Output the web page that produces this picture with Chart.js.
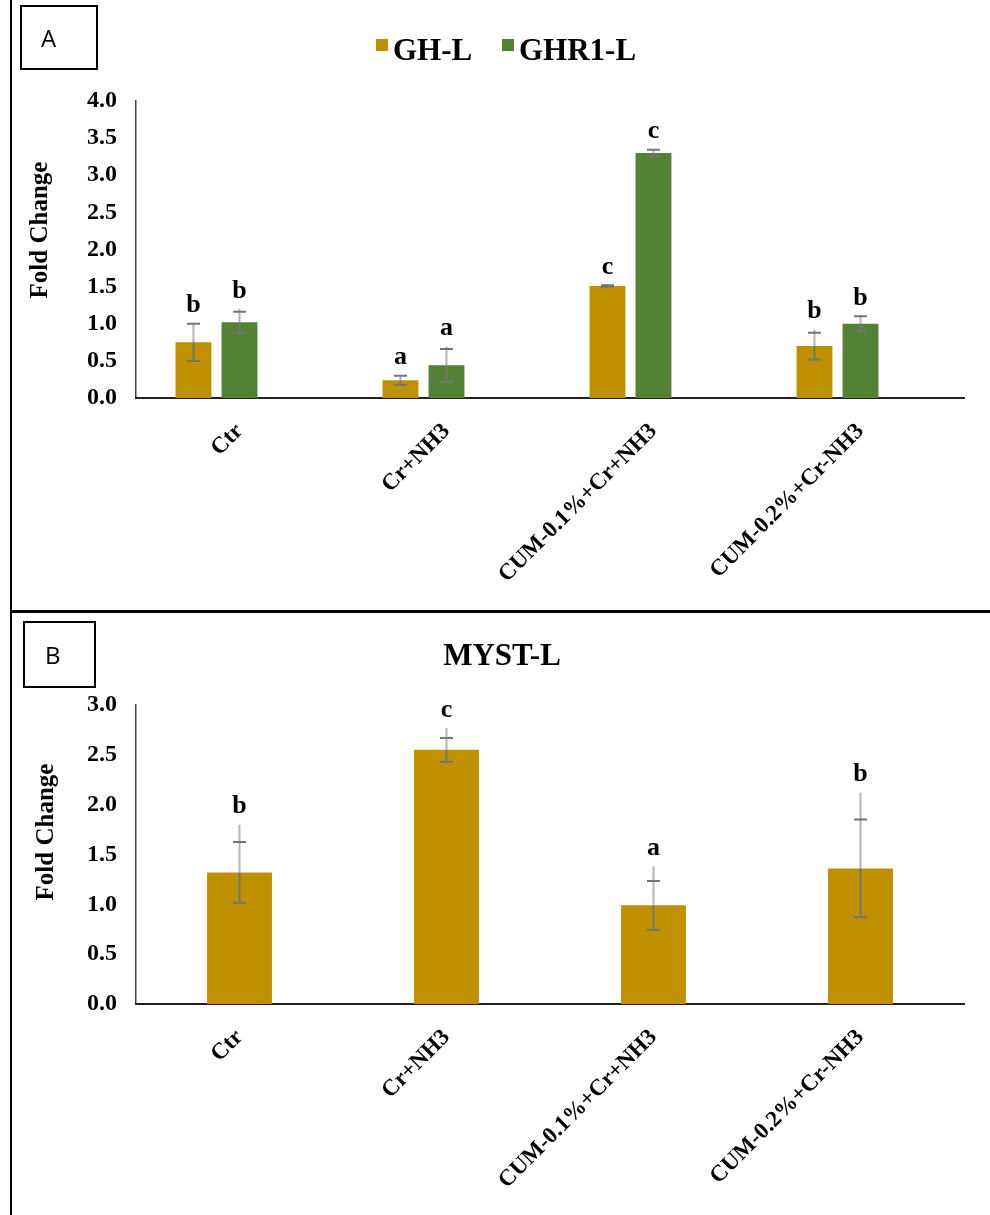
<!DOCTYPE html>
<html>
<head>
<meta charset="utf-8">
<script src="https://cdn.jsdelivr.net/npm/chart.js@4.4.1/dist/chart.umd.min.js"></script>
<style>
  html, body { margin: 0; padding: 0; background: #fff; }
  #page { position: relative; width: 990px; height: 1215px; overflow: hidden; background: #fff; }
  .vline { position: absolute; left: 10px; top: 0; width: 2px; height: 1215px; background: #000; }
  .hline { position: absolute; left: 10px; top: 610px; width: 980px; height: 3px; background: #000; }
  .tag { position: absolute; border: 2px solid #000; box-sizing: border-box;
         font-family: "Open Sans", "Noto Sans", sans-serif; font-size: 24px; color: #000;
         display: flex; align-items: center; }
  #tagA { left: 20px; top: 5px; width: 78px; height: 65px; padding-left: 19px; }
  #tagB { left: 23px; top: 621px; width: 73px; height: 67px; padding-left: 20px; }
  #chartA { position: absolute; left: 0; top: 0; }
  #chartB { position: absolute; left: 0; top: 610px; }
</style>
</head>
<body>
<div id="page">
  <canvas id="chartA" width="990" height="610"></canvas>
  <canvas id="chartB" width="990" height="605"></canvas>
  <div class="vline"></div>
  <div class="hline"></div>
  <div class="tag" id="tagA">A</div>
  <div class="tag" id="tagB">B</div>
</div>
<script>
// Treatment groups
const categories = ['Ctr', 'Cr+NH3', 'CUM-0.1%+Cr+NH3', 'CUM-0.2%+Cr-NH3'];

// Panel A: GH-L and GHR1-L fold change (mean, SE, upper whisker reach, significance letter)
const ghL        = [0.75, 0.24, 1.51, 0.70];
const ghLErr     = [0.25, 0.06, 0.01, 0.18];
const ghLReach   = [1.01, 0.30, 1.52, 0.92];
const ghLLetters = ['b', 'a', 'c', 'b'];

const ghr1L        = [1.02, 0.44, 3.30, 1.00];
const ghr1LErr     = [0.14, 0.22, 0.045, 0.10];
const ghr1LReach   = [1.20, 0.69, 3.345, 1.10];
const ghr1LLetters = ['b', 'a', 'c', 'b'];

// Panel B: MYST-L fold change
const mystL        = [1.32, 2.55, 0.99, 1.36];
const mystLErr     = [0.305, 0.12, 0.245, 0.49];
const mystLReach   = [1.80, 2.77, 1.38, 2.12];
const mystLLetters = ['b', 'c', 'a', 'b'];

// Axis ranges
const yMaxA = 4.0, yMaxB = 3.0, yStep = 0.5;

const GOLD = '#BF9000';
const GREEN = '#548235';
const SERIF = '"Liberation Serif", "Times New Roman", serif';

// Error bars with caps, a lighter whisker above the bar, and letter above
const errorBarPlugin = {
  id: 'errorBars',
  afterDatasetsDraw(chart) {
    const ctx = chart.ctx;
    const ys = chart.scales.y;
    chart.data.datasets.forEach((ds, i) => {
      if (!ds.errors) return;
      const meta = chart.getDatasetMeta(i);
      meta.data.forEach((bar, j) => {
        const v = ds.data[j];
        if (v == null) return;
        const e = ds.errors[j];
        const reach = Math.max(ds.reach[j], v + e);
        const x = bar.x;
        const yv = ys.getPixelForValue(v);
        const yHi = ys.getPixelForValue(v + e);
        const yLo = ys.getPixelForValue(v - e);
        const yTop = ys.getPixelForValue(reach);
        ctx.save();
        ctx.lineWidth = 2;
        ctx.lineCap = 'butt';
        ctx.strokeStyle = '#b5b5b5';
        ctx.beginPath(); ctx.moveTo(x, yv); ctx.lineTo(x, yTop); ctx.stroke();
        ctx.strokeStyle = '#747474';
        ctx.beginPath(); ctx.moveTo(x, yv); ctx.lineTo(x, yLo); ctx.stroke();
        ctx.beginPath();
        ctx.moveTo(x - 6.5, yHi); ctx.lineTo(x + 6.5, yHi);
        ctx.moveTo(x - 6.5, yLo); ctx.lineTo(x + 6.5, yLo);
        ctx.stroke();
        ctx.fillStyle = '#000';
        ctx.font = 'bold 26px ' + SERIF;
        ctx.textAlign = 'center';
        ctx.textBaseline = 'middle';
        ctx.fillText(ds.letters[j], x, Math.min(yTop, yHi) - 18);
        ctx.restore();
      });
    });
  }
};

// Rotated y-axis caption
function yCaption(cx, cy) {
  return {
    id: 'yCaption',
    afterDraw(chart) {
      const ctx = chart.ctx;
      ctx.save();
      ctx.translate(cx, cy);
      ctx.rotate(-Math.PI / 2);
      ctx.font = 'bold 25px ' + SERIF;
      ctx.fillStyle = '#000';
      ctx.textAlign = 'center';
      ctx.textBaseline = 'middle';
      ctx.fillText('Fold Change', 0, 0);
      ctx.restore();
    }
  };
}

// Legend for panel A
const legendPlugin = {
  id: 'legendA',
  afterDraw(chart) {
    const ctx = chart.ctx;
    ctx.save();
    ctx.font = 'bold 31px ' + SERIF;
    ctx.textBaseline = 'alphabetic';
    ctx.textAlign = 'left';
    ctx.fillStyle = GOLD;
    ctx.fillRect(376, 39, 12, 12);
    ctx.fillStyle = '#000';
    ctx.fillText('GH-L', 393, 60);
    ctx.fillStyle = GREEN;
    ctx.fillRect(502, 39, 12, 12);
    ctx.fillStyle = '#000';
    ctx.fillText('GHR1-L', 519, 60);
    ctx.restore();
  }
};

// Title for panel B
const titlePlugin = {
  id: 'titleB',
  afterDraw(chart) {
    const ctx = chart.ctx;
    ctx.save();
    ctx.font = 'bold 31px ' + SERIF;
    ctx.fillStyle = '#000';
    ctx.textAlign = 'center';
    ctx.textBaseline = 'alphabetic';
    ctx.fillText('MYST-L', 502, 55);
    ctx.restore();
  }
};

function axes(yMax, xHeight) {
  return {
    y: {
      min: 0, max: yMax,
      ticks: {
        stepSize: yStep,
        callback: v => Number(v).toFixed(1),
        font: { family: SERIF, size: 24, weight: 'bold' },
        color: '#000',
        padding: 19
      },
      grid: { display: false, drawTicks: false },
      border: { display: true, color: '#404040', width: 1.5 },
      afterFit: s => { s.width = 136; }
    },
    x: {
      ticks: {
        autoSkip: false,
        minRotation: 45, maxRotation: 45,
        font: { family: SERIF, size: 23, weight: 'bold' },
        color: '#000',
        padding: 20,
        labelOffset: 0
      },
      grid: { display: false, drawTicks: false },
      border: { display: true, color: '#222', width: 2 },
      afterFit: s => { s.height = xHeight; }
    }
  };
}

const common = {
  responsive: false,
  animation: false,
  devicePixelRatio: 1,
  plugins: { legend: { display: false }, tooltip: { enabled: false } }
};

new Chart(document.getElementById('chartA'), {
  type: 'bar',
  data: {
    labels: categories,
    datasets: [
      { label: 'GH-L', data: ghL, backgroundColor: GOLD, errors: ghLErr, reach: ghLReach, letters: ghLLetters },
      { label: 'GHR1-L', data: ghr1L, backgroundColor: GREEN, errors: ghr1LErr, reach: ghr1LReach, letters: ghr1LLetters },
      { label: '', data: categories.map(() => null), backgroundColor: 'rgba(0,0,0,0)' }
    ]
  },
  options: Object.assign({}, common, {
    layout: { padding: { top: 101, right: 26, bottom: 0, left: 0 } },
    datasets: { bar: { categoryPercentage: 0.667, barPercentage: 0.78 } },
    scales: axes(yMaxA, 212)
  }),
  plugins: [errorBarPlugin, legendPlugin, yCaption(41, 230)]
});

new Chart(document.getElementById('chartB'), {
  type: 'bar',
  data: {
    labels: categories,
    datasets: [
      { label: 'MYST-L', data: mystL, backgroundColor: GOLD, errors: mystLErr, reach: mystLReach, letters: mystLLetters }
    ]
  },
  options: Object.assign({}, common, {
    layout: { padding: { top: 95, right: 26, bottom: 0, left: 0 } },
    datasets: { bar: { categoryPercentage: 0.667, barPercentage: 0.47 } },
    scales: axes(yMaxB, 211)
  }),
  plugins: [errorBarPlugin, titlePlugin, yCaption(47, 222)]
});
</script>
</body>
</html>
